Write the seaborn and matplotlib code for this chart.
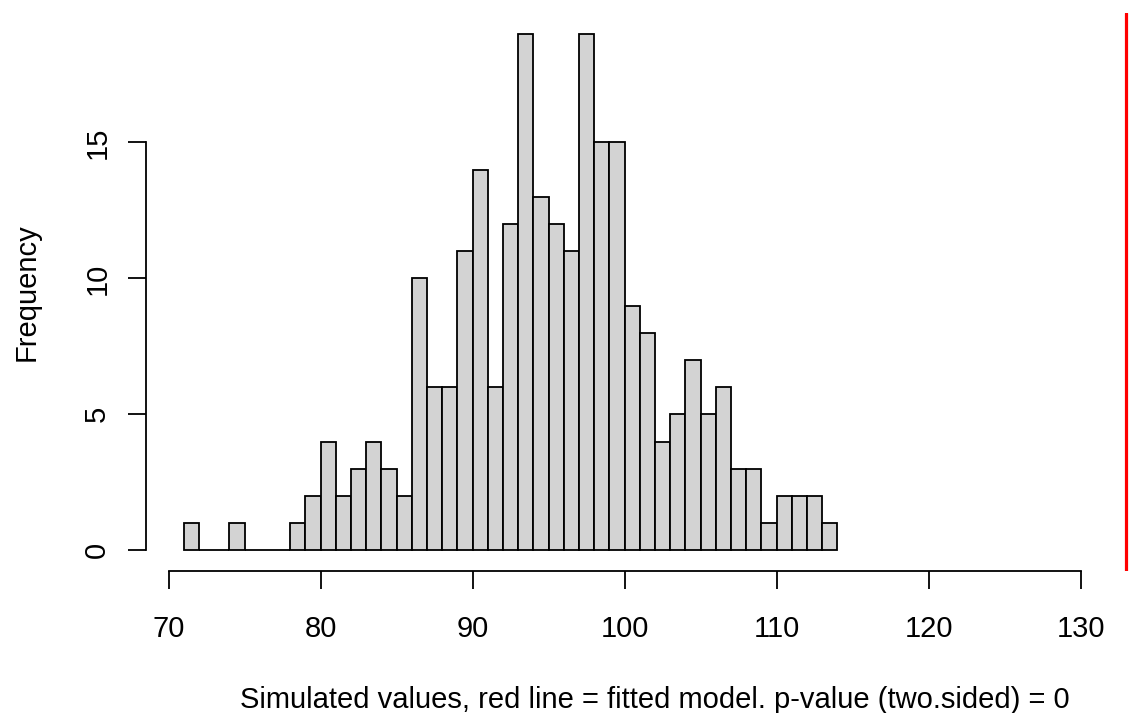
import numpy as np
import pandas as pd
import matplotlib
matplotlib.use("Agg")
import matplotlib.pyplot as plt
import seaborn as sns

# Histogram bins (left edges, width 1) and counts
bin_left = list(range(71, 114))
counts = [1, 0, 0, 1, 0, 0, 0, 1, 2, 4, 2, 3, 4, 3, 2, 10, 6, 6, 11, 14,
          6, 12, 19, 13, 12, 11, 19, 15, 15, 9, 8, 4, 5, 7, 5, 6, 3, 3, 1,
          2, 2, 2, 1]
observed_value = 133.0  # red line = fitted model
x_ticks = [70, 80, 90, 100, 110, 120, 130]
y_ticks = [0, 5, 10, 15]
x_label = "Simulated values, red line = fitted model. p-value (two.sided) = 0"
y_label = "Frequency"

df = pd.DataFrame({"value": [b + 0.5 for b in bin_left], "count": counts})

sns.set_style("white")
plt.rcParams['font.family'] = ['Liberation Sans', 'DejaVu Sans']
plt.rcParams['text.color'] = 'black'
plt.rcParams['axes.labelcolor'] = 'black'

W, H = 1129, 713
fig = plt.figure(figsize=(W / 100, H / 100), dpi=100)
left, right, bottom, top = 146, 1164, 571, 13
ax = fig.add_axes([left / W, 1 - bottom / H, (right - left) / W, (bottom - top) / H])

edges = [float(b) for b in bin_left] + [float(bin_left[-1] + 1)]
sns.histplot(data=df, x="value", weights="count", bins=edges,
             color="#D3D3D3", edgecolor="black", linewidth=1.3, alpha=1,
             ax=ax)
ax.axvline(observed_value, color="red", linewidth=2.3)

xmin, xmax = bin_left[0], observed_value
ax.set_xlim(xmin - 0.04 * (xmax - xmin), xmax + 0.04 * (xmax - xmin))
ymax = max(counts)
ax.set_ylim(-0.04 * ymax, ymax * 1.04)

for s in ["top", "right"]:
    ax.spines[s].set_visible(False)
ax.spines["bottom"].set_bounds(x_ticks[0], x_ticks[-1])
ax.spines["left"].set_bounds(y_ticks[0], y_ticks[-1])
for s in ["bottom", "left"]:
    ax.spines[s].set_color("black")
    ax.spines[s].set_linewidth(1.3)

ax.set_xticks(x_ticks)
ax.set_yticks(y_ticks)
ax.tick_params(axis="both", direction="out", length=13, width=1.3,
               color="black", labelsize=21, labelcolor="black",
               bottom=True, left=True)
ax.tick_params(axis="x", pad=18.5)
ax.tick_params(axis="y", pad=12)
for lab in ax.get_yticklabels():
    lab.set_rotation(90)
    lab.set_va("center")

ax.set_xlabel(x_label, fontsize=21, labelpad=31, color="black")
ax.set_ylabel(y_label, fontsize=21, labelpad=31, color="black")
ax.grid(False)

fig.savefig("out.png", dpi=100)
